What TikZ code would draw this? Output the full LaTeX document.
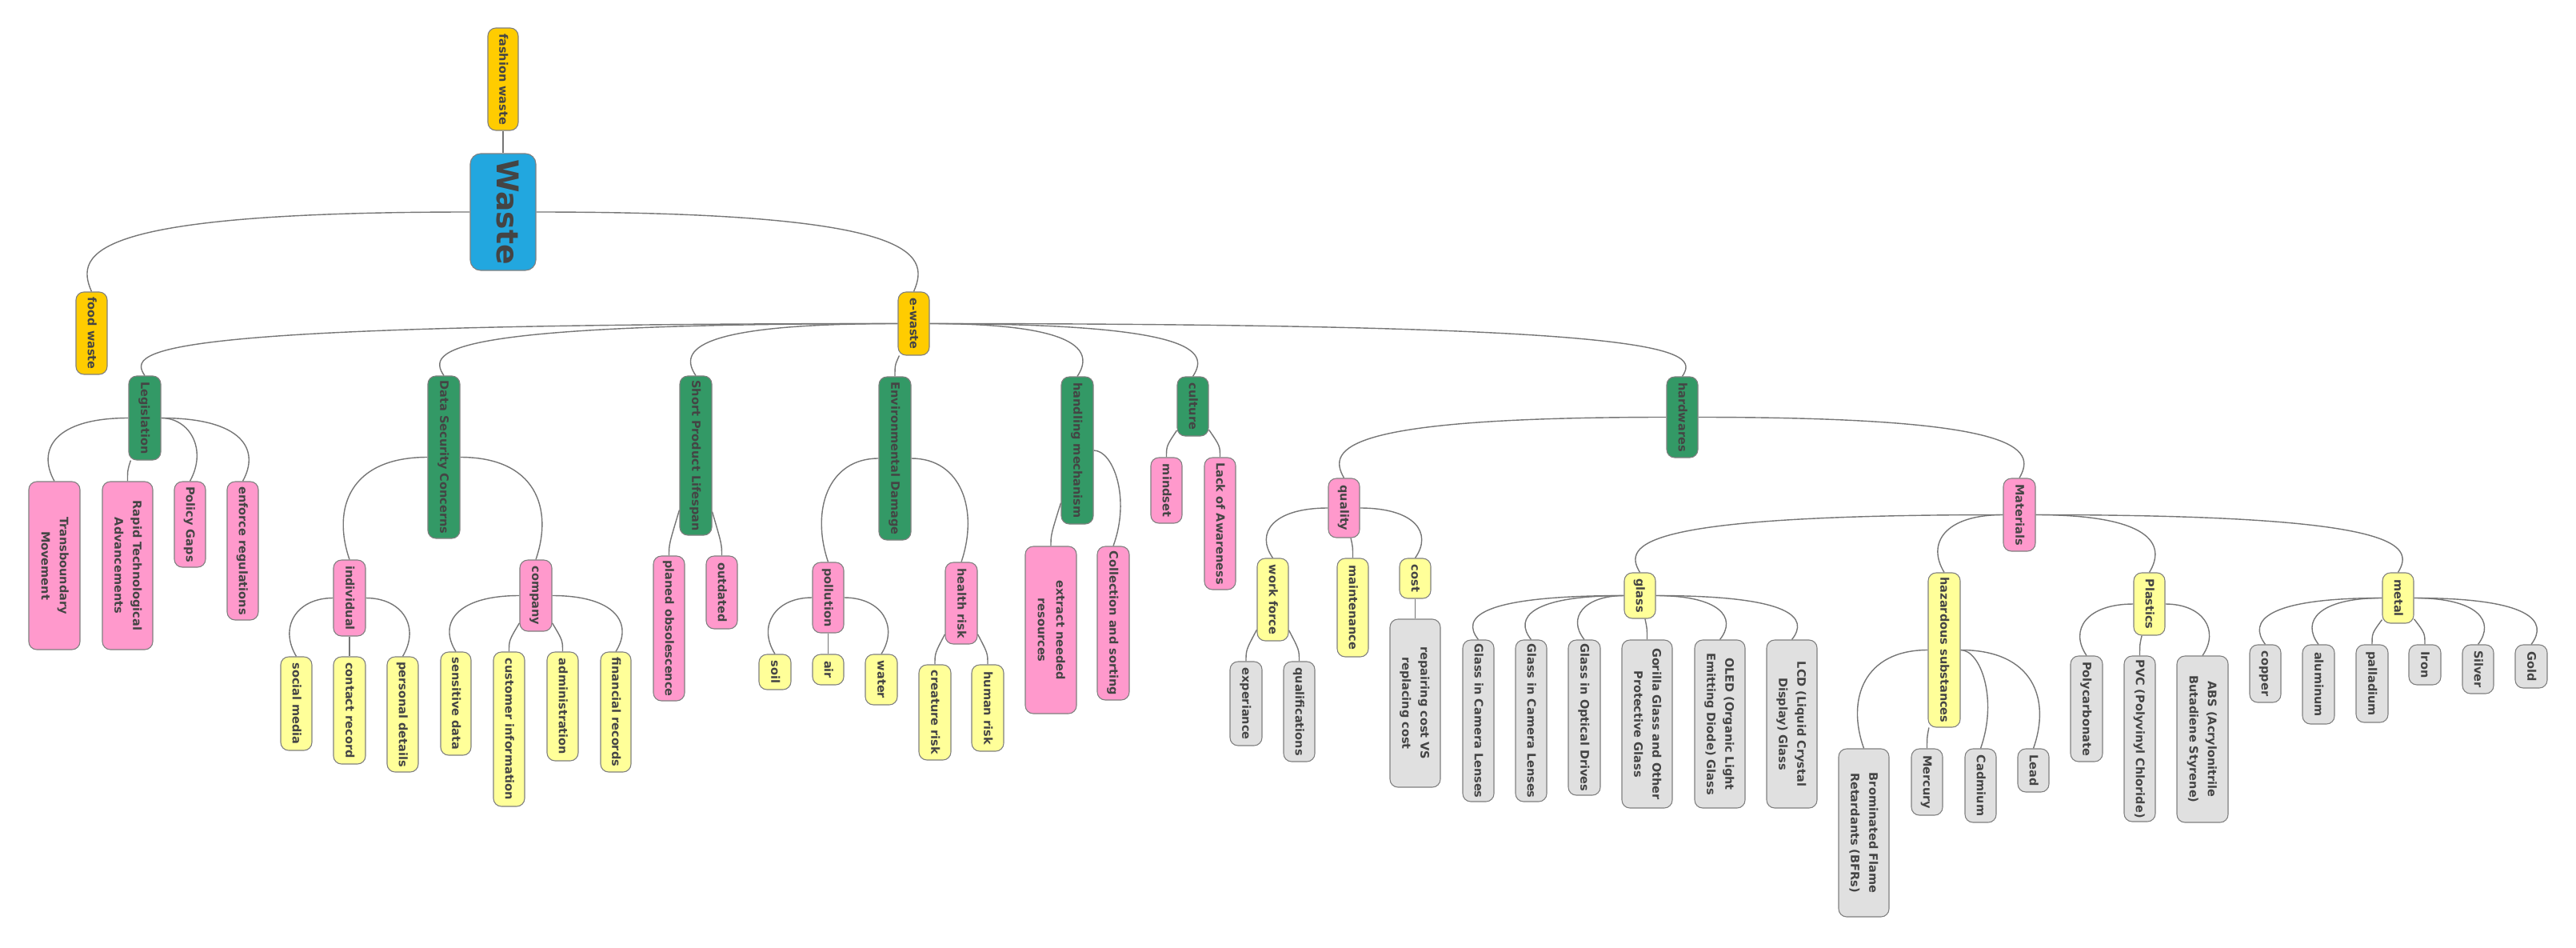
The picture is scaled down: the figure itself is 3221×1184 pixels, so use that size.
\documentclass[tikz,border=0pt]{standalone}
\usepackage{fontspec}
\setmainfont{DejaVu Sans}
\usepackage{graphicx}
\usetikzlibrary{calc}
\definecolor{cblue}{HTML}{22A7DF}
\definecolor{cgold}{HTML}{FFCC00}
\definecolor{cgreen}{HTML}{339966}
\definecolor{cpink}{HTML}{FF99CC}
\definecolor{cyell}{HTML}{FFFF99}
\definecolor{cgray}{HTML}{E0E0E0}
\definecolor{cbord}{HTML}{808080}
\definecolor{cline}{HTML}{767676}
\definecolor{ctext}{HTML}{444444}
\pgfdeclarelayer{bg}
\pgfdeclarelayer{lines}
\pgfsetlayers{bg,lines,main}
% node: name, style, x1, y1, x2, y2, text
\newcommand\bx[7]{\node[box,#2,minimum width={#5-#3},minimum height={#6-#4}] (#1) at ({(#3+#5)/2},{(#4+#6)/2}) {\rotatebox{-90}{\begin{tabular}{@{}c@{}}#7\end{tabular}}};}
% connectors
\newcommand\cnW[2]{\draw[conn] let \p1=(#1.west), \p2=(#2.north) in (\p1) .. controls (\x2,\y1) and ({\x2-22pt},{0.5*\y1+0.5*\y2}) .. (\p2);}
\newcommand\cnE[2]{\draw[conn] let \p1=(#1.east), \p2=(#2.north) in (\p1) .. controls (\x2,\y1) and ({\x2+22pt},{0.5*\y1+0.5*\y2}) .. (\p2);}
\newcommand\cnC[2]{\draw[conn] (#2.north) .. controls +(0pt,14pt) .. (#1);}
\newcommand\cnS[2]{\draw[conn] (#1) -- (#2);}
\begin{document}
\begin{tikzpicture}[x=1pt,y=-1pt,
  box/.style={draw=cbord,line width=1.1pt,rounded corners=10pt,inner sep=0pt,text=ctext,
    font=\bfseries\fontsize{14.5}{23}\selectfont},
  froot/.style={fill=cblue,rounded corners=13pt,font=\bfseries\fontsize{37.6}{40}\selectfont},
  fgold/.style={fill=cgold},
  fgreen/.style={fill=cgreen},
  fpink/.style={fill=cpink},
  fyell/.style={fill=cyell},
  fgray/.style={fill=cgray},
  conn/.style={draw=cline,line width=1.4pt}]
\begin{pgfonlayer}{bg}
\fill[white] (0,0) rectangle (3221,1184);
\end{pgfonlayer}
\useasboundingbox (0,0) rectangle (3221,1184);

% root and level 1
\bx{waste}{froot}{588}{192}{670}{338}{Waste}
\bx{fashion}{fgold}{610}{35}{648}{163}{fashion waste}
\bx{food}{fgold}{95}{365}{134}{468}{food waste}
\bx{ewaste}{fgold}{1123}{365}{1162}{444}{e-waste}

% level 2
\bx{leg}{fgreen}{161}{470}{201}{575}{Legislation}
\bx{dsc}{fgreen}{535}{470}{575}{673}{Data Security Concerns}
\bx{spl}{fgreen}{850}{470}{890}{669}{Short Product Lifespan}
\bx{envd}{fgreen}{1099}{471}{1139}{675}{Environmental Damage}
\bx{hand}{fgreen}{1327}{471}{1367}{655}{handling mechanism}
\bx{cult}{fgreen}{1472}{471}{1511}{545}{culture}
\bx{hard}{fgreen}{2084}{471}{2123}{572}{hardwares}

% Legislation
\bx{trans}{fpink}{36}{602}{100}{812}{Transboundary\\Movement}
\bx{rapid}{fpink}{128}{602}{191}{812}{Rapid Technological\\Advancements}
\bx{policy}{fpink}{218}{602}{257}{709}{Policy Gaps}
\bx{enforce}{fpink}{284}{602}{323}{775}{enforce regulations}

% Data Security
\bx{indiv}{fpink}{417}{700}{457}{795}{individual}
\bx{comp}{fpink}{650}{700}{690}{789}{company}
\bx{social}{fyell}{351}{821}{390}{938}{social media}
\bx{contact}{fyell}{417}{821}{457}{955}{contact record}
\bx{personal}{fyell}{484}{821}{523}{965}{personal details}
\bx{sens}{fyell}{551}{815}{589}{944}{sensitive data}
\bx{cust}{fyell}{617}{815}{656}{1008}{customer information}
\bx{admin}{fyell}{684}{815}{723}{951}{administration}
\bx{fin}{fyell}{751}{815}{789}{965}{financial records}

% Short Product Lifespan
\bx{planed}{fpink}{817}{695}{856}{876}{planed obsolescence}
\bx{outd}{fpink}{883}{695}{922}{786}{outdated}

% Environmental Damage
\bx{poll}{fpink}{1016}{703}{1055}{791}{pollution}
\bx{health}{fpink}{1182}{703}{1222}{805}{health risk}
\bx{soil}{fyell}{949}{818}{989}{862}{soil}
\bx{air}{fyell}{1016}{818}{1055}{856}{air}
\bx{water}{fyell}{1082}{818}{1122}{881}{water}
\bx{creat}{fyell}{1149}{831}{1189}{950}{creature risk}
\bx{human}{fyell}{1215}{831}{1255}{939}{human risk}

% handling mechanism
\bx{extract}{fpink}{1282}{683}{1346}{892}{extract needed\\resources}
\bx{collect}{fpink}{1372}{683}{1412}{875}{Collection and sorting}

% culture
\bx{mindset}{fpink}{1439}{572}{1478}{654}{mindset}
\bx{lack}{fpink}{1506}{572}{1545}{737}{Lack of Awareness}

% hardwares
\bx{quality}{fpink}{1661}{598}{1700}{672}{quality}
\bx{materials}{fpink}{2505}{598}{2545}{689}{Materials}
\bx{work}{fyell}{1572}{698}{1611}{801}{work force}
\bx{maint}{fyell}{1672}{698}{1711}{821}{maintenance}
\bx{cost}{fyell}{1750}{698}{1789}{748}{cost}
\bx{exper}{fgray}{1538}{827}{1578}{932}{experiance}
\bx{qualif}{fgray}{1605}{827}{1644}{952}{qualifications}
\bx{repair}{fgray}{1738}{774}{1801}{984}{repairing cost VS\\replacing cost}

% Materials
\bx{glass}{fyell}{2031}{716}{2070}{773}{glass}
\bx{hazard}{fyell}{2411}{716}{2451}{909}{hazardous substances}
\bx{plastics}{fyell}{2668}{716}{2707}{794}{Plastics}
\bx{metal}{fyell}{2979}{716}{3018}{779}{metal}

\bx{gcla}{fgray}{1829}{800}{1868}{1002}{Glass in Camera Lenses}
\bx{gclb}{fgray}{1895}{800}{1934}{1002}{Glass in Camera Lenses}
\bx{god}{fgray}{1961}{800}{2001}{994}{Glass in Optical Drives}
\bx{gor}{fgray}{2028}{800}{2091}{1010}{Gorilla Glass and Other\\Protective Glass}
\bx{oled}{fgray}{2119}{800}{2182}{1010}{OLED (Organic Light\\Emitting Diode) Glass}
\bx{lcd}{fgray}{2209}{800}{2272}{1010}{LCD (Liquid Crystal\\Display) Glass}

\bx{bfr}{fgray}{2299}{936}{2362}{1146}{Brominated Flame\\Retardants (BFRs)}
\bx{merc}{fgray}{2390}{936}{2429}{1019}{Mercury}
\bx{cad}{fgray}{2457}{936}{2496}{1028}{Cadmium}
\bx{lead}{fgray}{2523}{936}{2562}{990}{Lead}

\bx{polyc}{fgray}{2589}{820}{2629}{952}{Polycarbonate}
\bx{pvc}{fgray}{2656}{820}{2695}{1027}{PVC (Polyvinyl Chloride)}
\bx{abs}{fgray}{2722}{820}{2786}{1028}{ABS (Acrylonitrile\\Butadiene Styrene)}

\bx{copper}{fgray}{2813}{806}{2852}{878}{copper}
\bx{alum}{fgray}{2879}{806}{2919}{905}{aluminum}
\bx{pall}{fgray}{2946}{806}{2986}{903}{palladium}
\bx{iron}{fgray}{3012}{806}{3052}{856}{Iron}
\bx{silver}{fgray}{3079}{806}{3118}{867}{Silver}
\bx{gold}{fgray}{3145}{806}{3185}{860}{Gold}

\begin{pgfonlayer}{lines}
\cnS{fashion}{waste}
\cnW{waste}{food}
\cnE{waste}{ewaste}
\cnW{ewaste}{leg} \cnW{ewaste}{dsc} \cnW{ewaste}{spl} \cnC{ewaste}{envd}
\cnE{ewaste}{hand} \cnE{ewaste}{cult} \cnE{ewaste}{hard}
\cnW{leg}{trans} \cnC{leg}{rapid} \cnE{leg}{policy} \cnE{leg}{enforce}
\cnW{dsc}{indiv} \cnE{dsc}{comp}
\cnW{indiv}{social} \cnS{indiv}{contact} \cnE{indiv}{personal}
\cnW{comp}{sens} \cnC{comp}{cust} \cnC{comp}{admin} \cnE{comp}{fin}
\cnC{spl}{planed} \cnC{spl}{outd}
\cnW{envd}{poll} \cnE{envd}{health}
\cnW{poll}{soil} \cnS{poll}{air} \cnE{poll}{water}
\cnC{health}{creat} \cnC{health}{human}
\cnC{hand}{extract} \cnE{hand}{collect}
\cnC{cult}{mindset} \cnC{cult}{lack}
\cnW{hard}{quality} \cnE{hard}{materials}
\cnW{quality}{work} \cnC{quality}{maint} \cnE{quality}{cost}
\cnC{work}{exper} \cnC{work}{qualif}
\cnS{cost}{repair}
\cnW{materials}{glass} \cnW{materials}{hazard} \cnE{materials}{plastics} \cnE{materials}{metal}
\cnW{glass}{gcla} \cnW{glass}{gclb} \cnW{glass}{god} \cnC{glass}{gor} \cnE{glass}{oled} \cnE{glass}{lcd}
\cnW{hazard}{bfr} \cnC{hazard}{merc} \cnE{hazard}{cad} \cnE{hazard}{lead}
\cnW{plastics}{polyc} \cnC{plastics}{pvc} \cnE{plastics}{abs}
\cnW{metal}{copper} \cnW{metal}{alum} \cnC{metal}{pall} \cnC{metal}{iron} \cnE{metal}{silver} \cnE{metal}{gold}
\end{pgfonlayer}
\end{tikzpicture}
\end{document}
